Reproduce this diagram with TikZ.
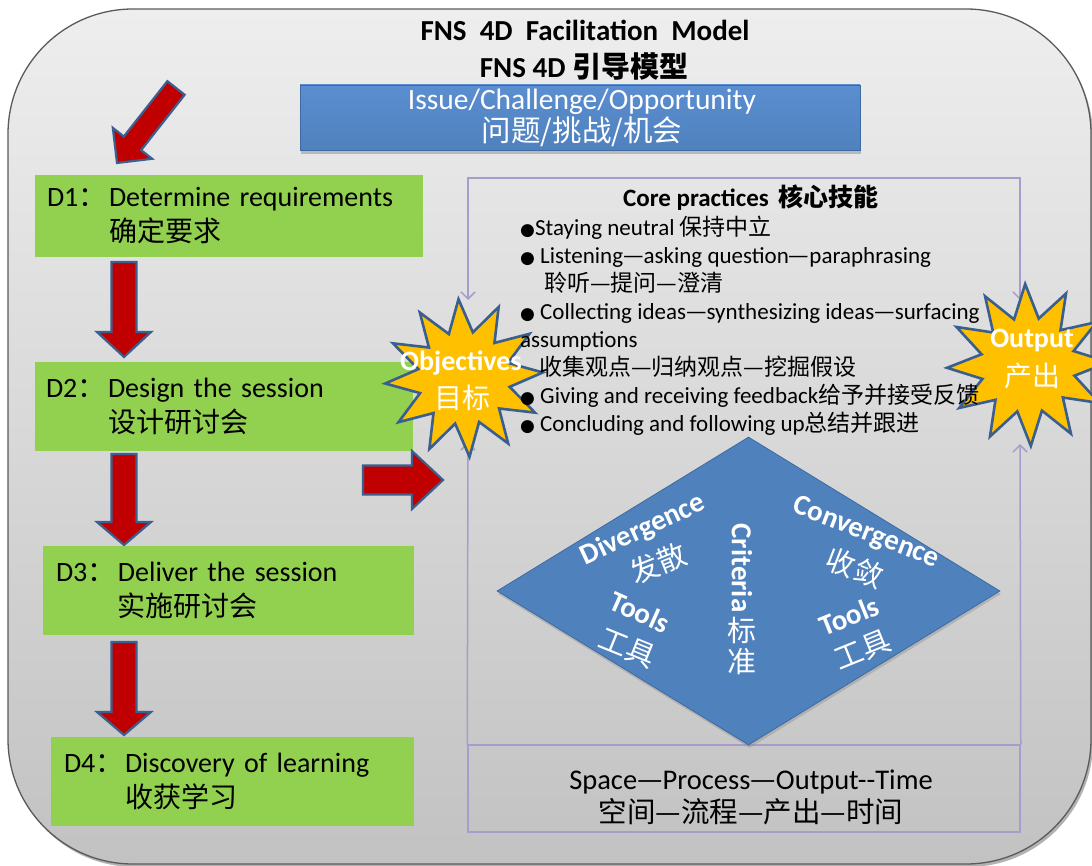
\documentclass[tikz,border=0pt]{standalone}
\usepackage{fontspec}
\setmainfont{Carlito}
\newfontfamily\cjk{Noto Sans CJK SC}
\newfontfamily\dv{DejaVu Sans}
\usetikzlibrary{shapes.geometric,calc,shadows,arrows.meta}

\definecolor{bgtop}{HTML}{EEEEEE}
\definecolor{bgbot}{HTML}{C2C2C2}
\definecolor{bgedge}{HTML}{5A5A5A}
\definecolor{gboxc}{HTML}{92D050}
\definecolor{bboxc}{HTML}{4F81BD}
\definecolor{bboxtop}{HTML}{5B8ED0}
\definecolor{bedge}{HTML}{3D6AA3}
\definecolor{redf}{HTML}{C00000}
\definecolor{arredge}{HTML}{3B5F8F}
\definecolor{purp}{HTML}{A79CCB}
\definecolor{goldc}{HTML}{FFC000}
\definecolor{staredge}{HTML}{3A5F8E}

\newcommand\fs[2]{\fontsize{#1}{#2}\selectfont}
\newcommand\blockarrow[5]{%
  \draw[redarrow] let \p1=($(#2)-(#1)$), \n1={atan2(\y1,\x1)}, \n2={veclen(\x1,\y1)} in
   [shift={(#1)},rotate=\n1]
   (0pt,{#3*1pt}) -- ({(\n2-#5)*1pt},{#3*1pt}) -- ({(\n2-#5)*1pt},{#4*1pt}) -- ({\n2*1pt},0pt)
   -- ({(\n2-#5)*1pt},{-#4*1pt}) -- ({(\n2-#5)*1pt},{-#3*1pt}) -- (0pt,{-#3*1pt}) -- cycle;}

\begin{document}
\begin{tikzpicture}[x=1pt,y=-1pt,
  redarrow/.style={fill=redf,draw=arredge,line width=2.2pt,line join=miter},
  gbox/.style={rectangle,fill=gboxc,inner ysep=0pt,align=left,font=\fs{28}{35}},
  purpline/.style={draw=purp,line width=1.5pt},
  ptip/.style={-{Straight Barb[length=7pt,width=14pt]}},
  burst/.style={star,star points=12,star point ratio=1.7,inner sep=0pt,fill=goldc,draw=staredge,line width=2.6pt},
  bursttext/.style={text=white,font=\bfseries\fs{28}{36},inner sep=0pt},
  burstcj/.style={text=white,font=\cjk\fs{28}{36},inner sep=0pt},
  dlab/.style={text=white,font=\bfseries\fs{29}{30},inner sep=0pt},
  dcj/.style={text=white,font=\cjk\fs{29}{30},inner sep=0pt},
  coretext/.style={align=left,font=\fs{23}{28},inner sep=0pt}]
\useasboundingbox (0,0) rectangle (1092,866);
% background panel
\fill[black!30,rounded corners=125pt] (10,12) rectangle (1093,867);
\path[rounded corners=125pt,top color=bgtop,bottom color=bgbot,draw=bgedge,line width=1.3pt] (8,9) rectangle (1091,864);

% title
\node[font=\bfseries\fs{29}{34}] (t1) at (585,30) {FNS\ \ 4D\ \ Facilitation\ \ Model};
\node[font=\bfseries\fs{29}{34}] (t2) at (584,66) {FNS 4D {\cjk 引导模型}};

% issue box
\node[rectangle,top color=bboxtop,bottom color=bboxc,draw=bedge,line width=0.8pt,
      minimum width=560pt,minimum height=65pt,inner sep=0pt,
      drop shadow={shadow xshift=1pt,shadow yshift=-4pt,opacity=.45}] (issue) at (580,117.5) {};
\node[text=white,align=center,font=\fs{29.5}{32}] (issuet) at (582,118) {Issue/Challenge/Opportunity\\{\cjk 问题/挑战/机会}};

% D boxes
\node[gbox,minimum width=388pt,minimum height=82pt,inner xsep=12pt,text width=364pt] (d1) at (229,216)
 {\makebox[62pt][l]{D1{\cjk ：}}Determine requirements\\\hspace*{62pt}{\cjk 确定要求}};
\node[gbox,minimum width=378pt,minimum height=89pt,inner xsep=11pt,text width=356pt] (d2) at (224,406.5)
 {\makebox[62pt][l]{D2{\cjk ：}}Design the session\\\hspace*{62pt}{\cjk 设计研讨会}};
\node[gbox,minimum width=371pt,minimum height=89pt,inner xsep=13pt,text width=345pt] (d3) at (228.5,590.5)
 {\makebox[62pt][l]{D3{\cjk ：}}Deliver the session\\\hspace*{62pt}{\cjk 实施研讨会}};
\node[gbox,minimum width=363pt,minimum height=89pt,inner xsep=13pt,text width=337pt] (d4) at (232.5,781.5)
 {\makebox[61pt][l]{D4{\cjk ：}}Discovery of learning\\\hspace*{61pt}{\cjk 收获学习}};

% arrow end points
\coordinate (a0s) at (176,88);  \coordinate (a0e) at (117,163);
\coordinate (a1s) at (124,262); \coordinate (a1e) at (124,357);
\coordinate (a2s) at (124,454); \coordinate (a2e) at (124,545);
\coordinate (a3s) at (124,642); \coordinate (a3e) at (124,735);
\coordinate (a4s) at (363,480); \coordinate (a4e) at (443,480);
\blockarrow{a0s}{a0e}{11}{25}{25}
\blockarrow{a1s}{a1e}{12.5}{27}{25}
\blockarrow{a2s}{a2e}{12.5}{27}{23}
\blockarrow{a3s}{a3e}{12.5}{27}{23}
\blockarrow{a4s}{a4e}{14.5}{29}{31}

% purple frame
\coordinate (ftl) at (468,178); \coordinate (ftr) at (1020,178);
\coordinate (otop) at (468,300); \coordinate (obot) at (468,442);
\coordinate (ptop) at (1020,300); \coordinate (pbot) at (1020,444);
\node[draw=purp,line width=1.5pt,minimum width=552pt,minimum height=87pt,inner sep=0pt] (spot) at (744,788.5) {};
\draw[purpline,{Straight Barb[length=7pt,width=14pt]}-{Straight Barb[length=7pt,width=14pt]}] (otop) -- (ftl) -- (ftr) -- (ptop);
\draw[purpline,ptip] (spot.north west) -- (obot);
\draw[purpline,ptip] (spot.north east) -- (pbot);
\node[align=center,font=\fs{28.5}{33}] (spott) at (751,797) {Space{\cjk —}Process{\cjk —}Output-{}-Time\\{\cjk 空间—流程—产出—时间}};

% diamond
\node[diamond,fill=bboxc,draw=bedge,line width=0.8pt,minimum width=503pt,minimum height=308pt,inner sep=0pt,
      drop shadow={shadow xshift=1pt,shadow yshift=-3pt,opacity=.35}] (dia) at (748.5,591) {};
\node[dlab,rotate=25] (div) at (643,530) {Divergence};
\node[dcj,rotate=22] (divc) at (658,563) {发散};
\node[dlab,rotate=-24] (tl1) at (640,612) {Tools};
\node[dcj,rotate=-22] (tl1c) at (627,648) {工具};
\node[dlab,rotate=-90] (cri) at (742,568) {Criteria};
\node[dcj] (cric1) at (742,630) {标};
\node[dcj] (cric2) at (742,662) {准};
\node[dlab,rotate=-21] (con) at (866,533) {Convergence};
\node[dcj,rotate=-21] (conc) at (855,568) {收敛};
\node[dlab,rotate=22] (tl2) at (849,616) {Tools};
\node[dcj,rotate=22] (tl2c) at (863,650) {工具};

% bursts
\node[burst,minimum size=158pt,rotate=4] (obj) at (464,378) {};
\node[burst,minimum size=162pt,rotate=2] (outp) at (1028,365) {};
\node[bursttext] (objt) at (461,363) {Objectives};
\node[burstcj] (objc) at (462,398) {目标};
\node[bursttext] (outt) at (1032,341) {Output};
\node[burstcj] (outc) at (1032,376) {产出};

% core practices
\node[font=\bfseries\fs{25}{28}] (coreh) at (751,198) {Core practices\hspace{10pt}{\cjk 核心技能}};
\node[coretext,anchor=north west] (core) at (520,216) {%
{\dv\fs{17}{28}●}Staying neutral {\cjk 保持中立}\\
{\dv\fs{17}{28}●} Listening{\cjk —}asking question{\cjk —}paraphrasing\\
\hspace*{24pt}{\cjk 聆听—提问—澄清}\\
{\dv\fs{17}{28}●} Collecting ideas{\cjk —}synthesizing ideas{\cjk —}surfacing\\
assumptions\\
\hspace*{19pt}{\cjk 收集观点—归纳观点—挖掘假设}\\
{\dv\fs{17}{28}●} Giving and receiving feedback{\cjk 给予并接受反馈}\\
{\dv\fs{17}{28}●} Concluding and following up{\cjk 总结并跟进}};
\end{tikzpicture}
\end{document}
